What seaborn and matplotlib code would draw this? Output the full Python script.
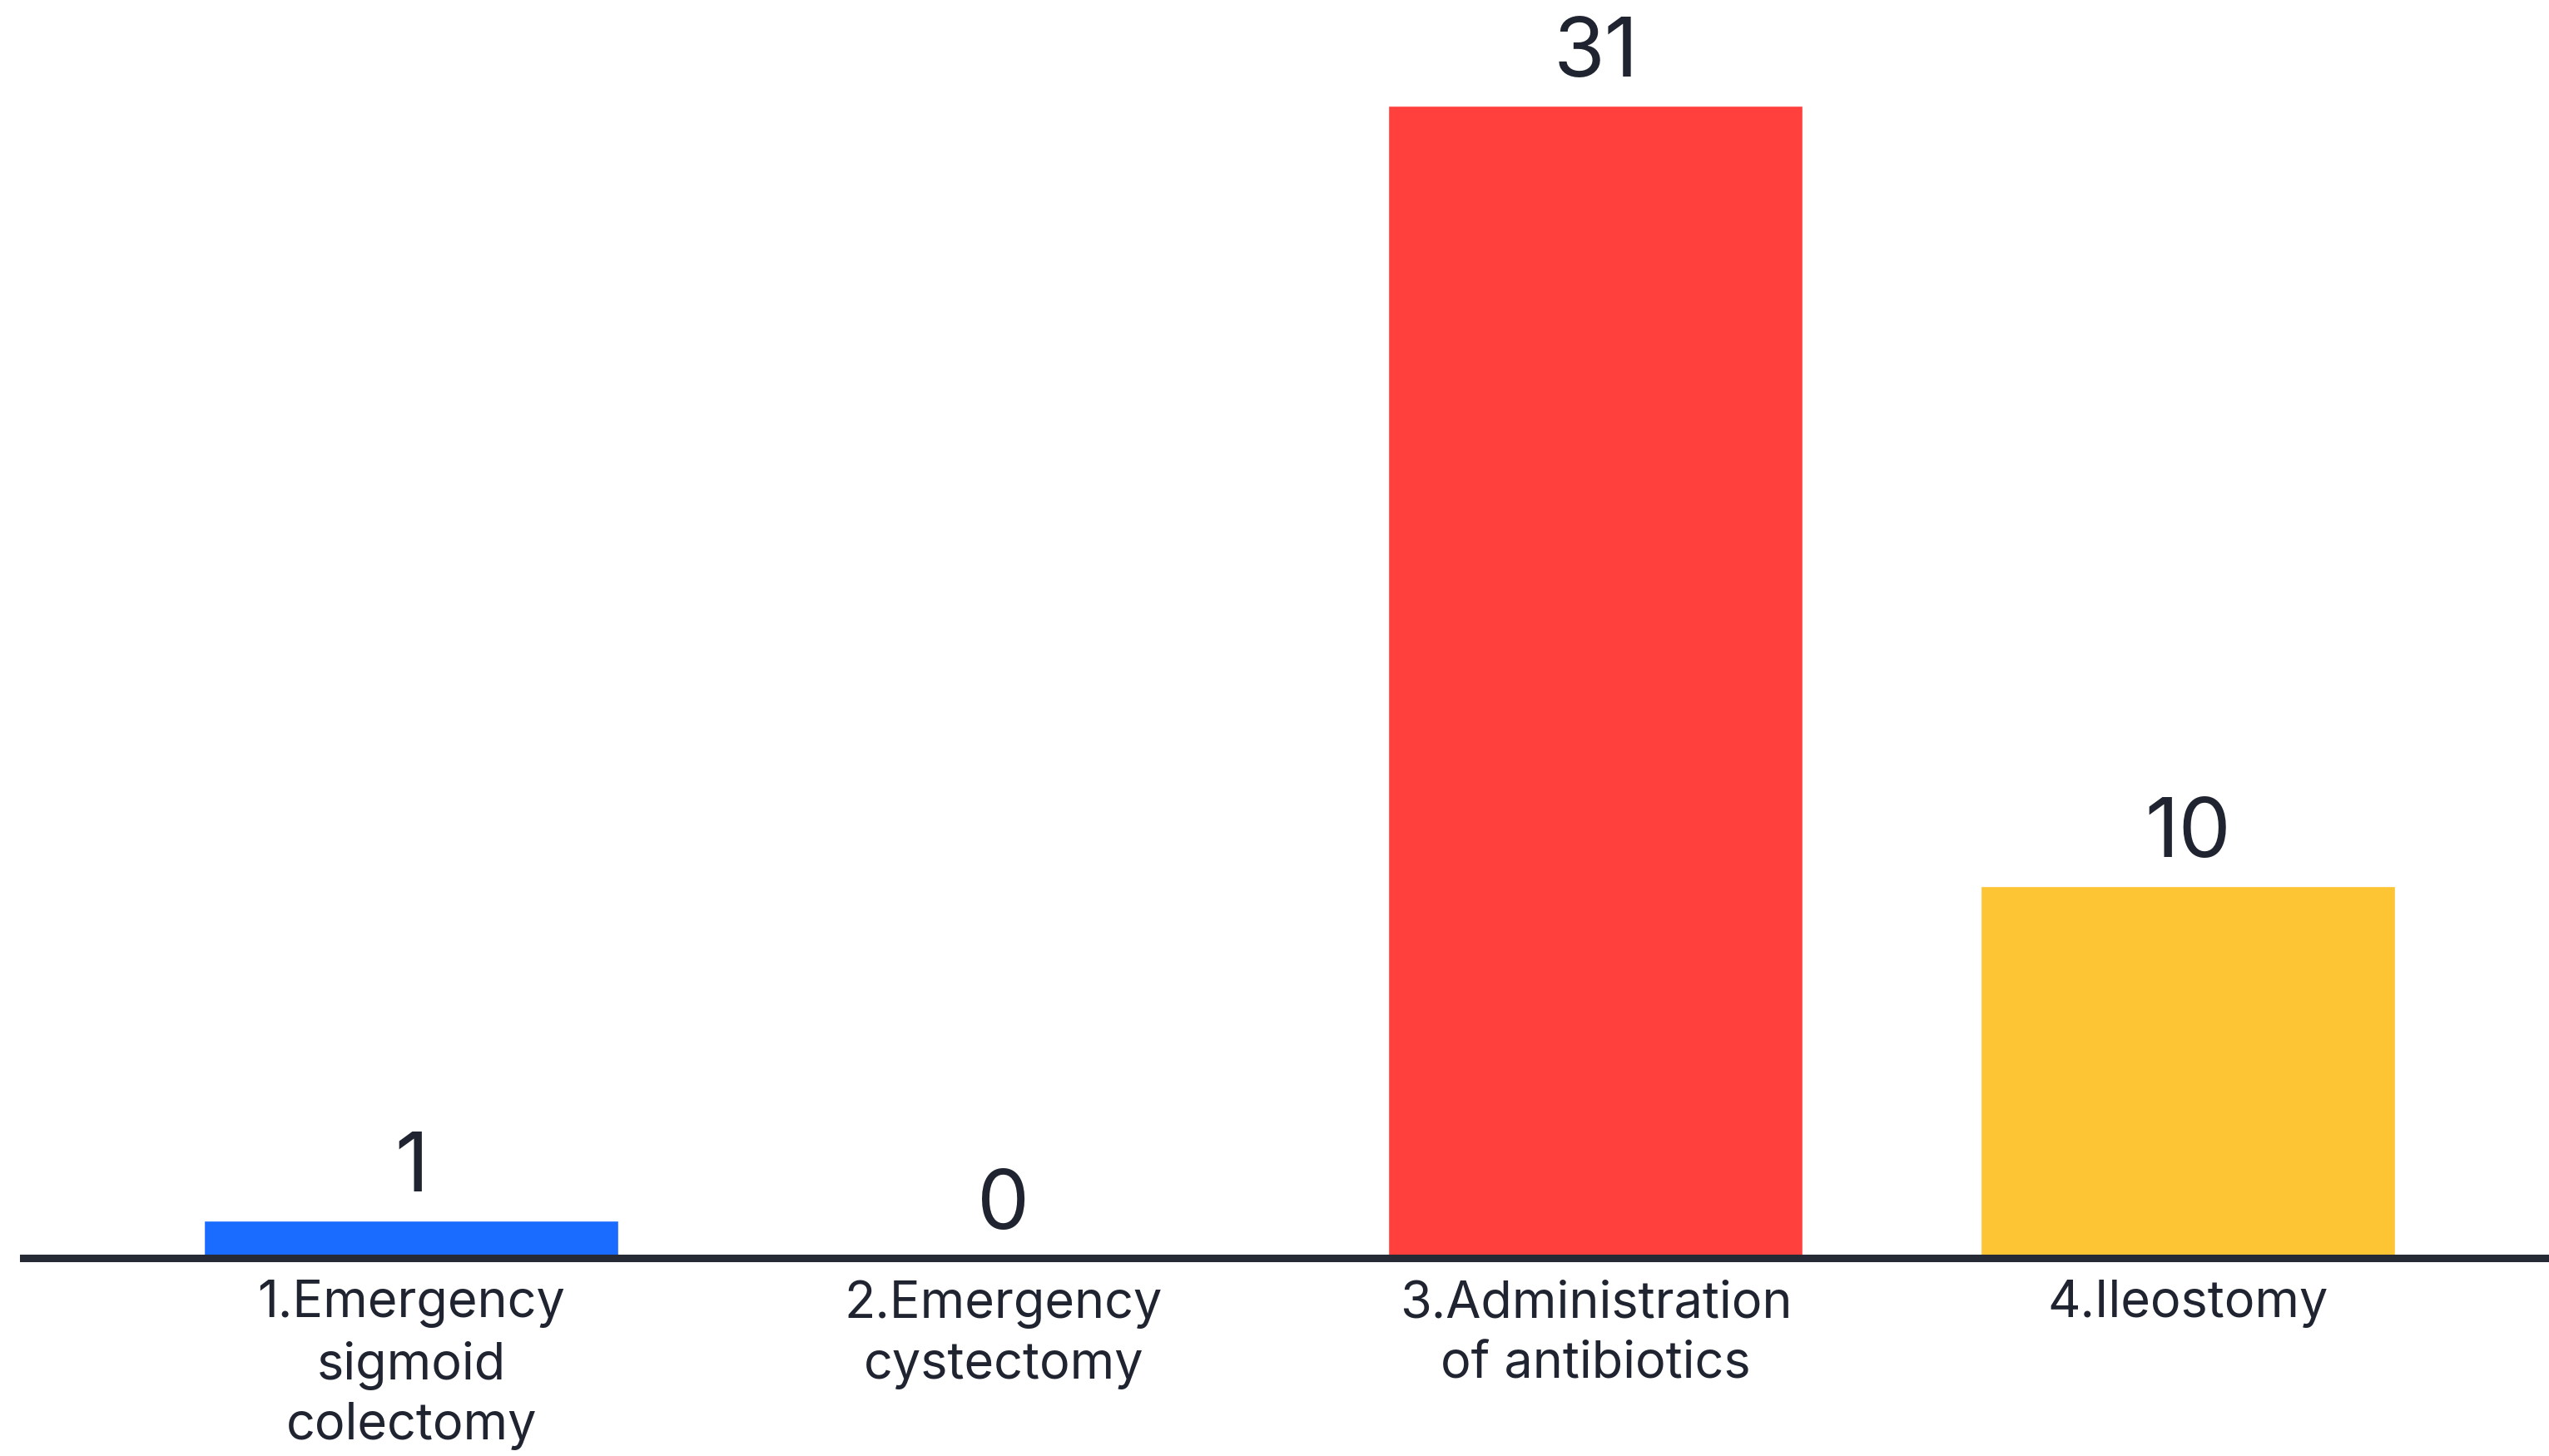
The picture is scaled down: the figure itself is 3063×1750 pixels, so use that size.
import matplotlib
matplotlib.use("Agg")
import matplotlib.pyplot as plt
import seaborn as sns
import pandas as pd

# Chart data
categories = [
    "1.Emergency\nsigmoid\ncolectomy",
    "2.Emergency\ncystectomy",
    "3.Administration\nof antibiotics",
    "4.Ileostomy",
]
counts = [1, 0, 31, 10]
bar_colors = ["#1a6bff", "#d9d9d9", "#ff403d", "#fdc433"]

df = pd.DataFrame({"option": categories, "count": counts})

sns.set_theme(style="white")
plt.rcParams["font.family"] = ["Inter", "DejaVu Sans"]

text_color = "#1f2430"

fig = plt.figure(figsize=(30.63, 17.5), dpi=100)
ax = fig.add_axes([0.0092, 0.136, 0.9908, 0.864])

sns.barplot(
    data=df, x="option", y="count", hue="option",
    palette=bar_colors, width=0.7, legend=False, ax=ax,
    saturation=1.0,
)

for container in ax.containers:
    ax.bar_label(container, fmt="%d", padding=11, fontsize=72, color=text_color)

ax.set_xlim(-0.655, 3.61)
ax.set_ylim(0, 33.84)

for side in ["top", "right", "left"]:
    ax.spines[side].set_visible(False)
ax.spines["bottom"].set_color("#262a35")
ax.spines["bottom"].set_linewidth(6.5)

ax.set_xlabel("")
ax.set_ylabel("")
ax.set_yticks([])
ax.tick_params(axis="x", length=0, pad=19, labelsize=44, labelcolor=text_color)
for lbl in ax.get_xticklabels():
    lbl.set_linespacing(1.33)

fig.savefig("out.png", dpi=100, facecolor="white")
